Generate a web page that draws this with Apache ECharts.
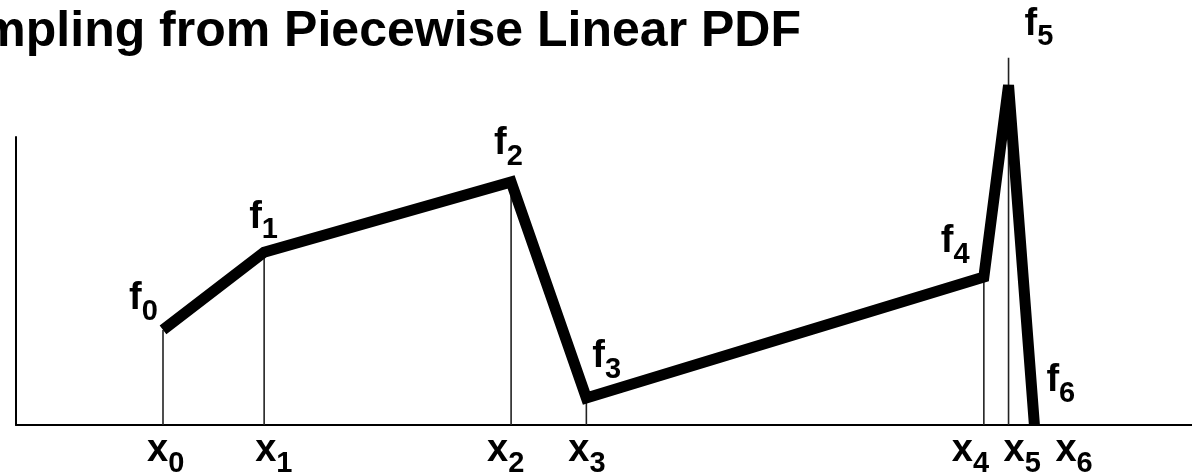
<!DOCTYPE html>
<html>
<head>
<meta charset="utf-8">
<script src="https://cdn.jsdelivr.net/npm/echarts@6/dist/echarts.min.js"></script>
<style>
html,body{margin:0;padding:0;background:#fff;}
#chart{width:1192px;height:473px;}
</style>
</head>
<body>
<div id="chart"></div>
<script>
// ---- data ----
const titleText = 'Sampling from Piecewise Linear PDF';
const xPositions = [12.5, 21.1, 42.1, 48.5, 82.3, 84.4, 86.6];
const fValues = [3.3, 6.0, 8.44, 0.94, 5.14, 11.8, 0];
const dropHeights = [3.3, 6.0, 8.44, 0.94, 5.14, 12.75, 0];
const fLabels = ['0', '1', '2', '3', '4', '5', '6'];
const xLabels = ['0', '1', '2', '3', '4', '5', '6'];

// ---- styling (label offsets in px, box top-left relative to anchor) ----
const fLabelOffsets = [[-34,-51],[-15,-55],[-17,-58],[6,-61],[-43,-55],[16,-81],[12,-64]];
const xLabelOffsets = [[-16,6],[-9,6],[-24,6],[-18,6],[-32,6],[-5,6],[21,6]];

const FONT = '"Liberation Sans", Arial, Helvetica, sans-serif';
const tokenBase = {fontFamily: FONT, fontWeight: 'bold', color: '#000', textBorderWidth: 0, textBorderColor: 'transparent', textShadowBlur: 0};
const rich = {
  m: Object.assign({}, tokenBase, {fontSize: 38, lineHeight: 40}),
  s: Object.assign({}, tokenBase, {fontSize: 29, lineHeight: 40, padding: [26,0,0,0]})
};

const linePts = xPositions.map((x, i) => [x, fValues[i]]);
const dropPts = xPositions.map((x, i) => [x, dropHeights[i]]);

const fLabelData = xPositions.map((x, i) => ({
  value: [x, fValues[i]],
  label: {offset: fLabelOffsets[i], formatter: '{m|f}{s|' + fLabels[i] + '}'}
}));
const xLabelData = xPositions.map((x, i) => ({
  value: [x, 0],
  label: {offset: xLabelOffsets[i], formatter: '{m|x}{s|' + xLabels[i] + '}'}
}));

const labelBase = {
  show: true, position: 'inside', align: 'left', verticalAlign: 'top', padding: 0,
  opacity: 1, color: '#000', textBorderWidth: 0, textBorderColor: 'transparent', rich: rich
};

const chart = echarts.init(document.getElementById('chart'), null, {renderer: 'canvas'});
chart.setOption({
  animation: false,
  backgroundColor: '#fff',
  title: {
    text: titleText,
    right: 391,
    top: 7,
    padding: 0,
    textStyle: {fontFamily: FONT, fontWeight: 'bold', fontSize: 50, color: '#000'}
  },
  grid: {left: 16, right: 0, top: 137, bottom: 48, containLabel: false},
  xAxis: {
    type: 'value', min: 0, max: 100,
    axisLine: {show: true, onZero: false, lineStyle: {color: '#000', width: 2}},
    axisTick: {show: false}, axisLabel: {show: false}, splitLine: {show: false}
  },
  yAxis: {
    type: 'value', min: 0, max: 10,
    axisLine: {show: true, onZero: false, lineStyle: {color: '#000', width: 2}},
    axisTick: {show: false}, axisLabel: {show: false}, splitLine: {show: false}
  },
  series: [
    {
      type: 'custom',
      clip: false,
      data: dropPts,
      renderItem: function (params, api) {
        const p0 = api.coord([api.value(0), 0]);
        const p1 = api.coord([api.value(0), api.value(1)]);
        return {
          type: 'line',
          shape: {x1: p0[0], y1: p0[1], x2: p1[0], y2: p1[1]},
          style: {stroke: '#222', lineWidth: 1.6}
        };
      },
      z: 1
    },
    {
      type: 'line',
      data: linePts,
      clip: false,
      symbol: 'none',
      lineStyle: {color: '#000', width: 11, join: 'miter', miterLimit: 3, cap: 'butt'},
      z: 2
    },
    {
      type: 'scatter',
      data: fLabelData,
      symbolSize: 0,
      clip: false,
      itemStyle: {opacity: 1},
      label: labelBase,
      z: 3
    },
    {
      type: 'scatter',
      data: xLabelData,
      symbolSize: 0,
      clip: false,
      itemStyle: {opacity: 1},
      label: labelBase,
      z: 3
    }
  ]
});
</script>
</body>
</html>
